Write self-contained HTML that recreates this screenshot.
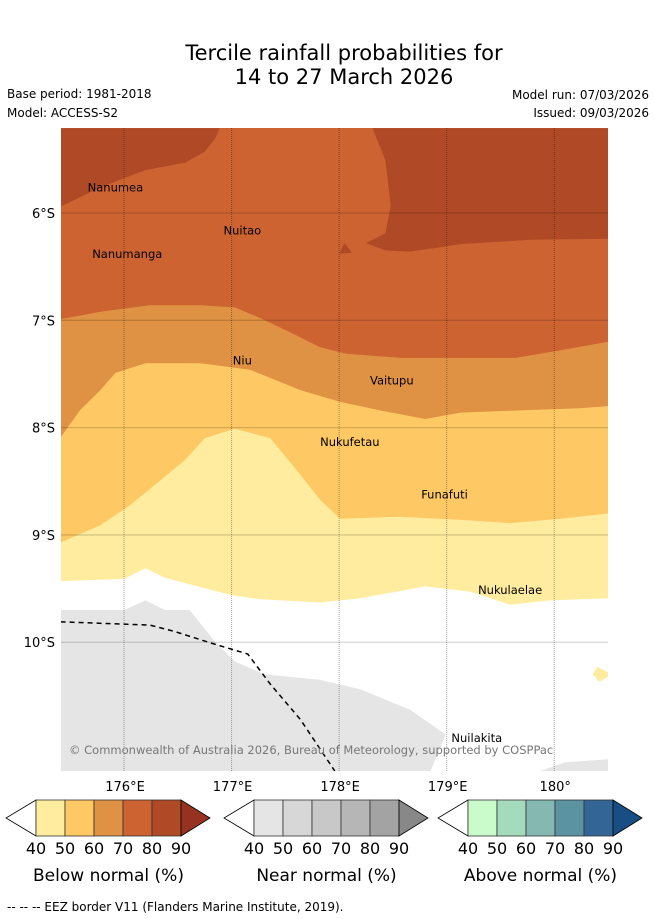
<!DOCTYPE html>
<html><head><meta charset="utf-8">
<style>
body{margin:0;background:#fff;width:655px;height:919px;overflow:hidden;font-family:"Liberation Sans","DejaVu Sans",sans-serif}
svg{position:absolute;left:0;top:0}
</style></head>
<body>
<svg id="chart" width="655" height="919" font-family="DejaVu Sans, Liberation Sans, sans-serif"></svg>
<script>
// ---- data (lon °E, lat °S) ----
const lonTicks=[176,177,178,179,180];
const lonTickLabels=["176°E","177°E","178°E","179°E","180°"];
const latTicks=[6,7,8,9,10];
const latTickLabels=["6°S","7°S","8°S","9°S","10°S"];
const boundary40Lon=[175.41,176.0,176.2,176.38,176.99,177.27,177.82,178.2,178.8,179.22,179.59,179.96,180.5];
const boundary40Lat=[9.43,9.41,9.31,9.40,9.56,9.60,9.63,9.59,9.48,9.53,9.65,9.61,9.59];
const boundary50Lon=[175.41,175.78,176.06,176.34,176.57,176.75,177.03,177.36,177.64,177.82,178.01,178.57,179.13,179.59,180.06,180.5];
const boundary50Lat=[9.07,8.91,8.72,8.49,8.30,8.10,8.01,8.10,8.44,8.67,8.85,8.83,8.86,8.89,8.85,8.80];
const boundary60Lon=[175.41,175.59,175.78,175.92,176.2,176.71,177.17,177.64,178.01,178.38,178.8,179.13,179.68,180.24,180.5];
const boundary60Lat=[8.09,7.84,7.65,7.49,7.40,7.40,7.46,7.65,7.76,7.84,7.92,7.86,7.84,7.82,7.80];
const boundary70Lon=[175.41,175.78,176.24,176.71,177.03,177.27,177.54,177.82,178.06,178.57,179.64,180.06,180.5];
const boundary70Lat=[6.99,6.92,6.86,6.86,6.88,6.98,7.11,7.25,7.31,7.35,7.35,7.28,7.20];
const dark1Lon=[175.41,175.41,175.68,175.96,176.2,176.57,176.75,176.85,176.89];
const dark1Lat=[5.21,5.94,5.81,5.69,5.60,5.53,5.43,5.30,5.21];
const dark2Lon=[178.31,178.43,178.48,178.43,178.25,178.43,178.66,179.13,179.78,180.5,180.5];
const dark2Lat=[5.21,5.51,5.93,6.19,6.28,6.35,6.36,6.29,6.25,6.24,5.21];
const grayLon=[175.41,176.0,176.2,176.38,176.61,176.85,177.03,177.31,177.82,178.2,178.66,178.99,178.85,175.41];
const grayLat=[9.70,9.70,9.61,9.70,9.70,10.0,10.18,10.30,10.35,10.44,10.63,10.86,11.2,11.2];
const eezLon=[175.41,176.24,176.47,176.85,177.15,177.36,177.64,177.96];
const eezLat=[9.81,9.84,9.90,10.02,10.11,10.39,10.72,11.2];
const islandNames=["Nanumea","Nuitao","Nanumanga","Niu","Vaitupu","Nukufetau","Funafuti","Nukulaelae","Nuilakita"];
const islandLon=[175.92,177.10,176.03,177.10,178.49,178.10,178.98,179.59,179.28];
const islandLat=[5.80,6.20,6.42,7.41,7.60,8.17,8.66,9.55,10.93];
const cbLevels=["40","50","60","70","80","90"];
const belowColors=["#ffec9f","#fec965","#e09244","#cc6331","#b04a26","#953320"];
const nearColors=["#e5e5e5","#d7d7d7","#c8c8c8","#b6b6b6","#a3a3a3","#888888"];
const aboveColors=["#c9fbcb","#a5dbbd","#84b8b1","#5b93a0","#336697","#174f85"];
// ---- axes ----
const X0=61,X1=608,Y0=128,Y1=771;
const LONMIN=175.414,LONMAX=180.5,LATMIN=5.208,LATMAX=11.2;
const xOf=l=>X0+(l-LONMIN)/(LONMAX-LONMIN)*(X1-X0);
const yOf=l=>Y0+(l-LATMIN)/(LATMAX-LATMIN)*(Y1-Y0);
const NS="http://www.w3.org/2000/svg";
const svg=document.getElementById('chart');
function mk(tag,attrs,parent){const e=document.createElementNS(NS,tag);for(const k in attrs)e.setAttribute(k,attrs[k]);(parent||svg).appendChild(e);return e;}
function pts(lo,la){return lo.map((v,i)=>xOf(v).toFixed(1)+','+yOf(la[i]).toFixed(1));}
function bandPoly(lo,la,color,name,g){
  const p=[xOf(LONMIN)+','+Y0].concat(pts(lo,la)).concat([xOf(LONMAX)+','+Y0]);
  const e=mk('polygon',{points:p.join(' '),fill:color},g);
  
  
}
function txt(s,x,y,attrs,name){const e=mk('text',Object.assign({x:x,y:y},attrs||{}));e.textContent=s;
  
  return e;}

// titles
txt("Tercile rainfall probabilities for",344,60,{"text-anchor":"middle","font-size":"21"},"chart-title-line1");
txt("14 to 27 March 2026",344,84,{"text-anchor":"middle","font-size":"21"},"chart-title-line2");
txt("Base period: 1981-2018",7,98,{"font-size":"12"},"base-period");
txt("Model: ACCESS-S2",7,117,{"font-size":"12"},"model-name");
txt("Model run: 07/03/2026",649,99,{"font-size":"12","text-anchor":"end"},"model-run");
txt("Issued: 09/03/2026",649,117,{"font-size":"12","text-anchor":"end"},"issued-date");

// map
const defs=mk('defs',{});
const cp=mk('clipPath',{id:'mapclip'},defs);
mk('rect',{x:X0,y:Y0,width:X1-X0,height:Y1-Y0},cp);
const g=mk('g',{'clip-path':'url(#mapclip)'});


mk('rect',{x:X0,y:Y0,width:X1-X0,height:Y1-Y0,fill:'#fff'},g);
bandPoly(boundary40Lon,boundary40Lat,belowColors[0],'band-below-40',g);
bandPoly(boundary50Lon,boundary50Lat,belowColors[1],'band-below-50',g);
bandPoly(boundary60Lon,boundary60Lat,belowColors[2],'band-below-60',g);
bandPoly(boundary70Lon,boundary70Lat,belowColors[3],'band-below-70',g);
let e=mk('polygon',{points:pts(dark1Lon,dark1Lat).join(' '),fill:belowColors[4]},g);


e=mk('polygon',{points:pts(dark2Lon,dark2Lat).join(' '),fill:belowColors[4]},g);


e=mk('polygon',{points:pts([178.0,178.05,178.12],[6.38,6.28,6.37]).join(' '),fill:belowColors[4]},g);


e=mk('polygon',{points:pts(grayLon,grayLat).join(' '),fill:nearColors[0]},g);


e=mk('polygon',{points:pts([179.87,180.1,180.5,180.5],[11.2,11.12,11.09,11.2]).join(' '),fill:nearColors[0]},g);


e=mk('polygon',{points:pts([175.41,175.6,175.41],[10.9,10.93,10.96]).join(' '),fill:nearColors[0]},g);


e=mk('polygon',{points:pts([180.5,180.4,180.36,180.42,180.5],[10.28,10.23,10.3,10.37,10.32]).join(' '),fill:belowColors[0]},g);


// gridlines
latTicks.forEach((t,i)=>{const l=mk('line',{x1:X0,x2:X1,y1:yOf(t),y2:yOf(t),stroke:'rgba(0,0,0,0.16)','stroke-width':1.3},g);
  
  });
lonTicks.forEach((t,i)=>{const l=mk('line',{x1:xOf(t),x2:xOf(t),y1:Y0,y2:Y1,stroke:'rgba(0,0,0,0.35)','stroke-width':1,'stroke-dasharray':'1,1'},g);
  
  });
// EEZ
e=mk('polyline',{points:pts(eezLon,eezLat).join(' '),fill:'none',stroke:'#000','stroke-width':1.5,'stroke-dasharray':'5,4'},g);


// islands
islandNames.forEach((n,i)=>{const t=mk('text',{x:xOf(islandLon[i]),y:yOf(islandLat[i]),'font-size':'11.5','text-anchor':'middle',fill:'#000'},g);t.textContent=n;
  
  });
e=mk('text',{x:69,y:754,'font-size':'11.5',fill:'#777'},g);e.textContent="© Commonwealth of Australia 2026, Bureau of Meteorology, supported by COSPPac";


// axis labels
latTicks.forEach((t,i)=>txt(latTickLabels[i],55,yOf(t)+5,{"font-size":"13","text-anchor":"end"},'lat-tick-label'));
lonTicks.forEach((t,i)=>txt(lonTickLabels[i],xOf(t)+1,791,{"font-size":"13","text-anchor":"middle"},'lon-tick-label'));
// colorbars
function colorbar(x0,colors,title,name){
  const w=29,y=800,h=36;
  const cg=mk('g',{});
  
  
  mk('polygon',{points:`${x0},${y} ${x0-30},${y+h/2} ${x0},${y+h}`,fill:'#fff',stroke:'#000','stroke-width':0.8},cg);
  for(let i=0;i<5;i++) mk('rect',{x:x0+i*w,y:y,width:w,height:h,fill:colors[i],stroke:'#333','stroke-width':0.8},cg);
  mk('polygon',{points:`${x0+5*w},${y} ${x0+5*w+29},${y+h/2} ${x0+5*w},${y+h}`,fill:colors[5],stroke:'#000','stroke-width':0.8},cg);
  cbLevels.forEach((l,i)=>{const t=mk('text',{x:x0+i*w,y:854,'font-size':'16','text-anchor':'middle'},cg);t.textContent=l;});
  const t=mk('text',{x:x0+2.5*w,y:881,'font-size':'17','text-anchor':'middle'},cg);t.textContent=title;
}
colorbar(36,belowColors,"Below normal (%)","colorbar-below");
colorbar(254,nearColors,"Near normal (%)","colorbar-near");
colorbar(468,aboveColors,"Above normal (%)","colorbar-above");
txt("--  --  -- EEZ border V11 (Flanders Marine Institute, 2019).",7,911,{"font-size":"12"},'eez-footnote');
</script>
</body></html>
